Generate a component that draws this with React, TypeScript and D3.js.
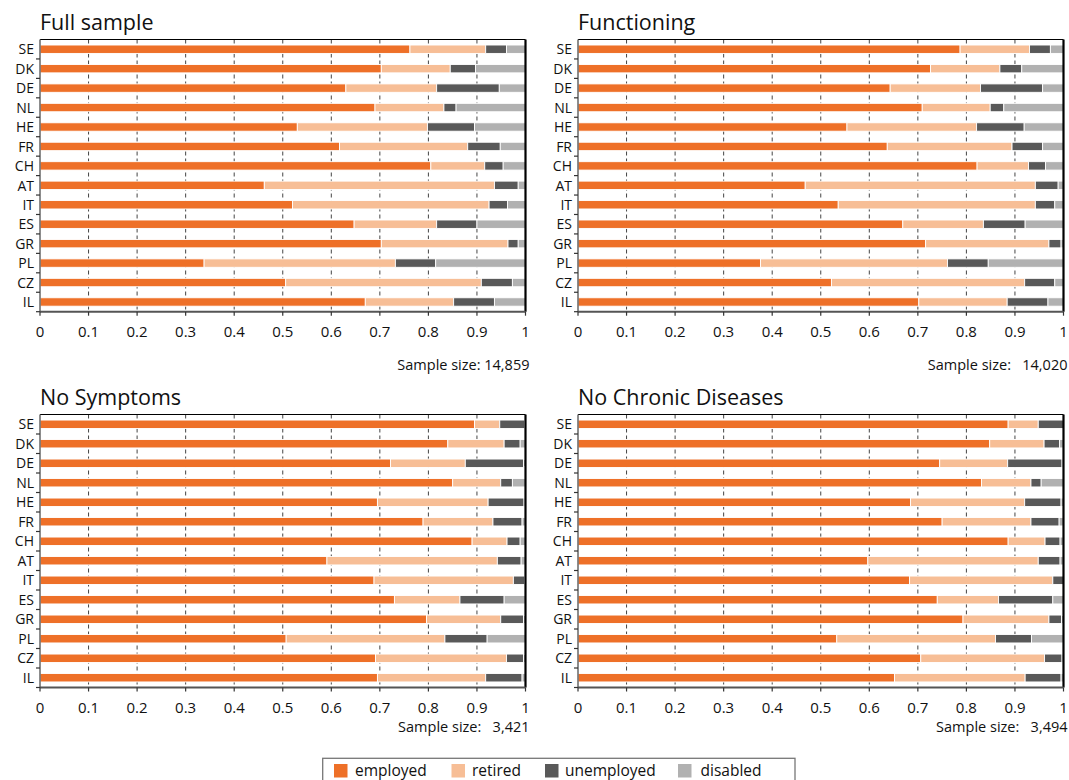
import React from "react";
import * as d3 from "d3";

const countries = ["SE", "DK", "DE", "NL", "HE", "FR", "CH", "AT", "IT", "ES", "GR", "PL", "CZ", "IL"];
const seriesKeys = ["employed", "retired", "unemployed", "disabled"];
const seriesColors = ["#EE7028", "#F7BE96", "#595959", "#B1B1B1"];
const xTicks = [0, 0.1, 0.2, 0.3, 0.4, 0.5, 0.6, 0.7, 0.8, 0.9, 1];

// Full sample
const fullEmployed = [0.762, 0.703, 0.63, 0.69, 0.53, 0.617, 0.805, 0.462, 0.52, 0.647, 0.703, 0.338, 0.506, 0.67];
const fullRetired = [0.156, 0.142, 0.187, 0.142, 0.268, 0.264, 0.111, 0.474, 0.405, 0.17, 0.261, 0.394, 0.403, 0.182];
const fullUnemployed = [0.043, 0.052, 0.129, 0.025, 0.097, 0.067, 0.038, 0.049, 0.038, 0.083, 0.021, 0.083, 0.064, 0.084];
const fullDisabled = [0.039, 0.103, 0.054, 0.143, 0.105, 0.052, 0.046, 0.015, 0.037, 0.1, 0.015, 0.185, 0.027, 0.064];

// Functioning
const funcEmployed = [0.787, 0.726, 0.643, 0.709, 0.554, 0.637, 0.822, 0.468, 0.536, 0.669, 0.716, 0.376, 0.522, 0.702];
const funcRetired = [0.143, 0.143, 0.186, 0.14, 0.267, 0.257, 0.106, 0.474, 0.406, 0.166, 0.254, 0.385, 0.398, 0.182];
const funcUnemployed = [0.043, 0.045, 0.128, 0.028, 0.098, 0.063, 0.035, 0.047, 0.04, 0.086, 0.025, 0.084, 0.062, 0.084];
const funcDisabled = [0.027, 0.086, 0.043, 0.123, 0.081, 0.043, 0.037, 0.011, 0.018, 0.079, 0.005, 0.155, 0.018, 0.032];

// No Symptoms
const symEmployed = [0.895, 0.84, 0.722, 0.85, 0.695, 0.789, 0.89, 0.591, 0.688, 0.73, 0.796, 0.507, 0.691, 0.695];
const symRetired = [0.052, 0.116, 0.154, 0.099, 0.228, 0.144, 0.072, 0.351, 0.287, 0.135, 0.153, 0.327, 0.27, 0.223];
const symUnemployed = [0.052, 0.033, 0.12, 0.024, 0.074, 0.06, 0.027, 0.049, 0.024, 0.091, 0.047, 0.087, 0.035, 0.075];
const symDisabled = [0.001, 0.011, 0.004, 0.027, 0.003, 0.007, 0.011, 0.009, 0.001, 0.044, 0.004, 0.079, 0.004, 0.007];

// No Chronic Diseases
const chrEmployed = [0.886, 0.848, 0.745, 0.831, 0.685, 0.75, 0.886, 0.597, 0.683, 0.74, 0.793, 0.533, 0.706, 0.652];
const chrRetired = [0.062, 0.112, 0.14, 0.102, 0.235, 0.183, 0.076, 0.351, 0.295, 0.126, 0.177, 0.327, 0.255, 0.269];
const chrUnemployed = [0.052, 0.032, 0.112, 0.021, 0.075, 0.058, 0.031, 0.045, 0.022, 0.112, 0.026, 0.074, 0.036, 0.074];
const chrDisabled = [0.0, 0.008, 0.003, 0.046, 0.005, 0.009, 0.007, 0.007, 0.0, 0.022, 0.004, 0.066, 0.003, 0.005];

const panelTitles = ["Full sample", "Functioning", "No Symptoms", "No Chronic Diseases"];
const sampleLabels = ["Sample size: 14,859", "Sample size:   14,020", "Sample size:   3,421", "Sample size:   3,494"];
const panelSeries = [
  [fullEmployed, fullRetired, fullUnemployed, fullDisabled],
  [funcEmployed, funcRetired, funcUnemployed, funcDisabled],
  [symEmployed, symRetired, symUnemployed, symDisabled],
  [chrEmployed, chrRetired, chrUnemployed, chrDisabled],
];

const FONT = "'Open Sans', sans-serif";

// layout
const layouts = [
  { x0: 40, x1: 525.5, top: 39.5, bottom: 311.7 },
  { x0: 578, x1: 1063.5, top: 39.5, bottom: 311.7 },
  { x0: 40, x1: 525.5, top: 414.5, bottom: 687.5 },
  { x0: 578, x1: 1063.5, top: 414.5, bottom: 687.5 },
];

function Panel({ idx }: { idx: number }) {
  const L = layouts[idx];
  const x = d3.scaleLinear().domain([0, 1]).range([L.x0, L.x1]);
  const y = d3.scaleBand().domain(countries).range([L.top, L.bottom]).paddingInner(0).paddingOuter(0);
  const rows = countries.map((c, i) => {
    const r: any = { country: c };
    seriesKeys.forEach((k, j) => (r[k] = panelSeries[idx][j][i]));
    return r;
  });
  const stacked = d3.stack().keys(seriesKeys)(rows);
  const bh = 8.4;
  const bw = y.bandwidth();
  return (
    <g>
      <text x={L.x0} y={L.top - 10} fontFamily={FONT} fontSize={21.5} fill="#111">
        {panelTitles[idx]}
      </text>
      {xTicks.slice(1, -1).map((t) => (
        <line key={t} x1={x(t)} x2={x(t)} y1={L.top} y2={L.bottom} stroke="#444" strokeWidth={1} strokeDasharray="4,3" />
      ))}
      {stacked.map((s, si) => (
        <g key={si} fill={seriesColors[si]}>
          {s.map((d: any, i: number) => {
            const w = x(d[1]) - x(d[0]);
            if (w <= 0) return null;
            return (
              <rect
                key={i}
                x={x(d[0])}
                y={(y(countries[i]) as number) + bw / 2 - bh / 2}
                width={w}
                height={bh}
                stroke="#fff"
                strokeWidth={0.9}
              />
            );
          })}
        </g>
      ))}
      <line x1={L.x0} x2={L.x1} y1={L.top} y2={L.top} stroke="#000" strokeWidth={1.2} />
      <line x1={L.x1} x2={L.x1} y1={L.top} y2={L.bottom} stroke="#000" strokeWidth={2.2} />
      <line x1={L.x0} x2={L.x0} y1={L.top} y2={L.bottom} stroke="#666" strokeWidth={1.5} />
      {countries.map((c, i) => (
        <line
          key={"lt" + i}
          x1={L.x0 - 4}
          x2={L.x0}
          y1={(y(c) as number) + bw}
          y2={(y(c) as number) + bw}
          stroke="#333"
          strokeWidth={1.2}
        />
      ))}
      {countries.map((c) => (
        <text
          key={"cl" + c}
          x={L.x0 - 6}
          y={(y(c) as number) + bw / 2 + 5.2}
          textAnchor="end"
          fontFamily={FONT}
          fontSize={14}
          fill="#111"
        >
          {c}
        </text>
      ))}
      <line x1={L.x0} x2={L.x1} y1={L.bottom} y2={L.bottom} stroke="#555" strokeWidth={2} />
      {xTicks.map((t) => (
        <g key={"bt" + t}>
          <line x1={x(t)} x2={x(t)} y1={L.bottom} y2={L.bottom + 4} stroke="#333" strokeWidth={1.2} />
          <text x={x(t)} y={L.bottom + 25.5} textAnchor="middle" fontFamily={FONT} fontSize={15} fill="#111">
            {t === 0 ? "0" : t === 1 ? "1" : d3.format(".1f")(t)}
          </text>
        </g>
      ))}
      <text
        x={L.x1 + 4}
        y={idx < 2 ? L.bottom + 58 : L.bottom + 44.5}
        textAnchor="end"
        fontFamily={FONT}
        fontSize={14.5}
        fill="#111"
        style={{ whiteSpace: "pre" }}
      >
        {sampleLabels[idx]}
      </text>
    </g>
  );
}

function Legend() {
  const items = [
    { sx: 334, tx: 355 },
    { sx: 451.5, tx: 472 },
    { sx: 545, tx: 565 },
    { sx: 678, tx: 700.5 },
  ];
  return (
    <g>
      <rect x={322.7} y={758.3} width={472.3} height={40} fill="#fff" stroke="#777" strokeWidth={1.3} />
      {seriesKeys.map((k, i) => (
        <g key={k}>
          <rect x={items[i].sx} y={764} width={13.5} height={13.5} fill={seriesColors[i]} />
          <text x={items[i].tx} y={775.5} fontFamily={FONT} fontSize={15.5} fill="#111">
            {k}
          </text>
        </g>
      ))}
    </g>
  );
}

export default function App() {
  return (
    <svg
      width={1069}
      height={780}
      viewBox="0 0 1069 780"
      style={{ position: "absolute", left: 0, top: 0, background: "#fff" }}
    >
      <rect width={1069} height={780} fill="#fff" />
      {[0, 1, 2, 3].map((i) => (
        <Panel key={i} idx={i} />
      ))}
      <Legend />
    </svg>
  );
}
